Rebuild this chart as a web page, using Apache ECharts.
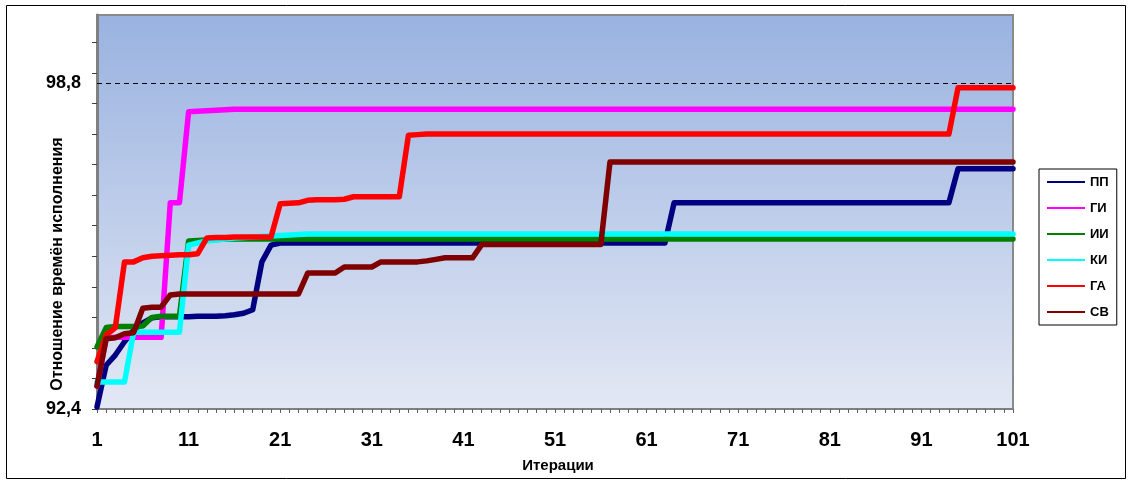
<!DOCTYPE html>
<html>
<head>
<meta charset="utf-8">
<script src="https://cdn.jsdelivr.net/npm/echarts@6/dist/echarts.min.js"></script>
<style>
html,body{margin:0;padding:0;background:#fff;}
#chart{width:1130px;height:484px;}
</style>
</head>
<body>
<div id="chart"></div>
<script>
// ---- data ----
const iterations = Array.from({length: 101}, (_, i) => String(i + 1));
const seriesNames = ['ПП', 'ГИ', 'ИИ', 'КИ', 'ГА', 'СВ'];
const seriesColors = ['#000080', '#FF00FF', '#008000', '#00FFFF', '#FF0000', '#800000'];

function rep(v, n) { return Array(n).fill(v); }

const PP = [92.44, 93.26, 93.46, 93.72, 93.95, 94.09, 94.19, 94.21, 94.21, 94.21,
  94.21, 94.22, 94.22, 94.22, 94.23, 94.25, 94.28, 94.35, 95.29, 95.62]
  .concat(rep(95.66, 43), rep(96.45, 31), rep(97.12, 7));

const GI = [92.85, 93.78].concat(rep(93.81, 6),
  [96.45, 96.45, 98.24, 98.25, 98.26, 98.27, 98.28], rep(98.29, 86));

const II = [93.62, 94.0, 94.02, 94.02, 94.02, 94.03, 94.2, 94.22, 94.22, 94.22,
  95.70, 95.71, 95.72, 95.73].concat(rep(95.74, 87));

const KI = [92.93, 92.93, 92.93, 92.93, 93.91, 93.91, 93.91, 93.91, 93.91, 93.91,
  95.62, 95.66, 95.70, 95.72, 95.74, 95.76, 95.77, 95.78, 95.79, 95.80,
  95.81, 95.82, 95.83].concat(rep(95.84, 78));

const GA = [93.33, 93.85, 94.0, 95.29, 95.29, 95.37, 95.40, 95.41, 95.42, 95.43,
  95.43, 95.45, 95.76, 95.77, 95.77, 95.78, 95.78, 95.78, 95.78, 95.78,
  96.43, 96.44, 96.45, 96.50, 96.51, 96.51, 96.51, 96.52, 96.57]
  .concat(rep(96.57, 5), [97.78, 97.79, 97.80], rep(97.80, 57), rep(98.71, 7));

const SV = [92.85, 93.78, 93.80, 93.88, 93.90, 94.38, 94.40, 94.40, 94.64]
  .concat(rep(94.66, 14), rep(95.07, 4), rep(95.19, 4), rep(95.29, 5),
  [95.31, 95.34, 95.37], rep(95.37, 3), rep(95.63, 14), rep(97.25, 45));

const seriesData = [PP, GI, II, KI, GA, SV];

const yTickValues = [92.4, 93.0, 93.6, 94.2, 94.8, 95.4, 96.0, 96.6, 97.2, 97.8, 98.4, 99.0, 99.6];
const yLabelValues = [92.4, 98.8];
const refLineValue = 98.8;
const yTitle = 'Отношение времён исполнения';
const xTitle = 'Итерации';

// ---- chart ----
const chart = echarts.init(document.getElementById('chart'), null, {renderer: 'canvas'});
const FONT = '"Liberation Sans", Arial, sans-serif';

const series = seriesNames.map((name, k) => ({
  name: name,
  type: 'line',
  data: seriesData[k],
  showSymbol: false,
  symbol: 'none',
  lineStyle: {width: 5.5, color: seriesColors[k], join: 'round', cap: 'round'},
  itemStyle: {color: seriesColors[k]},
  z: 3 + k,
  animation: false,
  markLine: k === 0 ? {
    silent: true,
    symbol: ['none', 'none'],
    label: {show: false},
    lineStyle: {type: [5, 4], color: '#000', width: 1},
    data: [{yAxis: refLineValue}],
    animation: false
  } : undefined
}));

chart.setOption({
  animation: false,
  backgroundColor: '#fff',
  grid: {
    left: 97, right: 117, top: 15, bottom: 75,
    show: true,
    backgroundColor: {
      type: 'linear', x: 0, y: 0, x2: 0, y2: 1,
      colorStops: [{offset: 0, color: '#99B2E0'}, {offset: 1, color: '#E3E8F4'}]
    },
    borderColor: '#8a8a8a',
    borderWidth: 2
  },
  xAxis: {
    type: 'category',
    data: iterations,
    boundaryGap: false,
    axisLine: {lineStyle: {color: '#808080', width: 2}},
    axisTick: {show: true, interval: 0, length: 4, lineStyle: {color: '#606060', width: 1}},
    axisLabel: {
      interval: 9,
      margin: 21,
      color: '#000',
      fontFamily: FONT,
      fontWeight: 'bold',
      fontSize: 20
    },
    splitLine: {show: false}
  },
  yAxis: {
    type: 'value',
    min: 92.4,
    max: 100.14,
    axisLine: {show: true, lineStyle: {color: '#808080', width: 3}},
    axisTick: {show: true, length: 5, customValues: yTickValues, lineStyle: {color: '#404040', width: 1}},
    axisLabel: {
      customValues: yLabelValues,
      margin: 16,
      color: '#000',
      fontFamily: FONT,
      fontWeight: 'bold',
      fontSize: 18,
      formatter: v => Number(v).toFixed(1).replace('.', ',')
    },
    splitLine: {show: false}
  },
  legend: {
    orient: 'vertical',
    left: 1039,
    top: 169,
    data: seriesNames,
    icon: 'rect',
    itemWidth: 38,
    itemHeight: 2,
    itemGap: 10,
    padding: [5, 8, 5, 8],
    backgroundColor: '#fff',
    borderColor: '#000',
    borderWidth: 1,
    borderRadius: 0,
    textStyle: {fontFamily: FONT, fontWeight: 'bold', fontSize: 13, color: '#000', lineHeight: 16, padding: [0, 0, 0, 0]},
    selectedMode: false
  },
  graphic: [
    {
      type: 'rect',
      shape: {x: 6.5, y: 5.5, width: 1119, height: 473},
      style: {fill: 'none', stroke: '#000', lineWidth: 1},
      silent: true, z: -1
    },
    {
      type: 'text',
      x: 58, y: 264,
      rotation: Math.PI / 2,
      style: {text: yTitle, font: 'bold 16px "Liberation Sans", Arial, sans-serif', fill: '#000', align: 'center', verticalAlign: 'middle'},
      silent: true
    },
    {
      type: 'text',
      x: 558, y: 466,
      style: {text: xTitle, font: 'bold 15px "Liberation Sans", Arial, sans-serif', fill: '#000', align: 'center', verticalAlign: 'middle'},
      silent: true
    }
  ],
  series: series
});
</script>
</body>
</html>
